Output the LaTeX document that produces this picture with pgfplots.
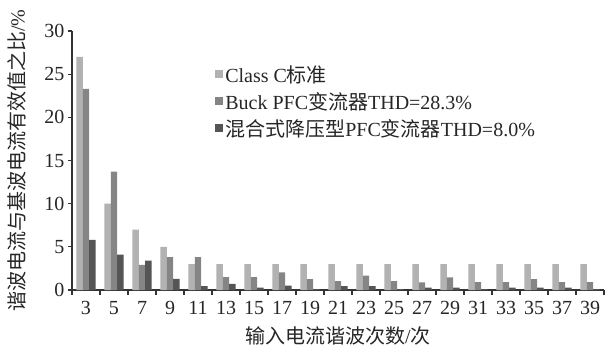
\documentclass[border=0pt]{standalone}
\usepackage{pgfplots}
\pgfplotsset{compat=1.18}
\usepackage{fontspec}
\setmainfont{Liberation Serif}
\newfontfamily\cjk{Noto Sans CJK SC}

\definecolor{cClass}{RGB}{178,178,178}
\definecolor{cBuck}{RGB}{133,133,133}
\definecolor{cMix}{RGB}{85,85,85}

\newcommand{\fs}{\fontsize{20}{23}\selectfont}

\begin{document}
\begin{tikzpicture}
\begin{axis}[
  at={(0,0)}, anchor=south west,
  scale only axis,
  width=532pt, height=259pt,
  ybar=0pt, bar width=0.23,
  xmin=-0.5, xmax=18.5,
  ymin=0, ymax=30,
  axis lines*=left,
  axis line style={line width=1.2pt, black!80},
  tick align=outside,
  xtick={0,...,18},
  xticklabels={3,5,7,9,11,13,15,17,19,21,23,25,27,29,31,33,35,37,39},
  major x tick style={draw=none},
  minor xtick={-0.5,0.5,...,18.5},
  minor tick length=5pt,
  minor x tick style={line width=1.2pt, black!80},
  ytick={0,5,...,30},
  major tick length=4pt,
  y tick style={line width=1.2pt, black!80},
  /pgf/number format/assume math mode=true,
  tick label style={font=\fs, text=black!85},
  xticklabel style={yshift=-4pt},
  ylabel={{\cjk 谐波电流与基波电流有效值之比}/\%},
  xlabel={{\cjk 输入电流谐波次数}/{\cjk 次}},
  ylabel style={at={(axis description cs:-0.1034,0.5)}, anchor=center, font=\fs, text=black!85},
  xlabel style={at={(axis description cs:0.5,-0.176)}, anchor=center, font=\fs, text=black!85},
  legend style={at={(axis description cs:0.269,0.876)}, anchor=north west,
    draw=none, fill=none, font=\fs, text=black!85, inner sep=0pt,
    row sep=4.5pt, cells={anchor=west}},
  legend image code/.code={\fill[#1,draw=none] (0pt,-4pt) rectangle (8pt,4pt);},
  legend cell align=left,
]
\addplot[fill=cClass, draw=none] coordinates {
  (0,27) (1,10) (2,7) (3,5) (4,3) (5,3) (6,3) (7,3) (8,3) (9,3)
  (10,3) (11,3) (12,3) (13,3) (14,3) (15,3) (16,3) (17,3) (18,3)};
\addplot[fill=cBuck, draw=none] coordinates {
  (0,23.3) (1,13.7) (2,2.9) (3,3.8) (4,3.8) (5,1.5) (6,1.5) (7,2.05) (8,1.27) (9,1.04)
  (10,1.66) (11,1.04) (12,0.89) (13,1.47) (14,0.9) (15,0.9) (16,1.27) (17,0.9) (18,0.9)};
\addplot[fill=cMix, draw=none] coordinates {
  (0,5.8) (1,4.1) (2,3.4) (3,1.3) (4,0.45) (5,0.7) (6,0.27) (7,0.5) (8,0.1) (9,0.46)
  (10,0.46) (11,0.1) (12,0.27) (13,0.27) (14,0.1) (15,0.27) (16,0.27) (17,0.27) (18,0.1)};
\legend{Class C{\cjk 标准}, Buck PFC{\cjk 变流器}THD=28.3\%, {\cjk 混合式降压型}PFC{\cjk 变流器}THD=8.0\%}
\end{axis}
\pgfresetboundingbox
\path[use as bounding box] (-72pt,-58pt) rectangle (535pt,290pt);
\end{tikzpicture}
\end{document}
